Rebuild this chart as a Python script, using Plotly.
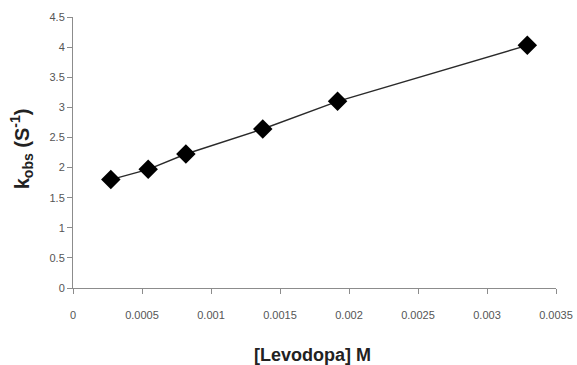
import plotly.graph_objects as go

# Levodopa concentration (M) and observed rate constant (s^-1)
levodopa_conc = [0.000274, 0.000545, 0.000818, 0.001375, 0.001917, 0.003292]
k_obs = [1.80, 1.97, 2.225, 2.64, 3.10, 4.03]

x_ticks = [0, 0.0005, 0.001, 0.0015, 0.002, 0.0025, 0.003, 0.0035]
x_tick_text = ["0", "0.0005", "0.001", "0.0015", "0.002", "0.0025", "0.003", "0.0035"]
y_ticks = [0, 0.5, 1, 1.5, 2, 2.5, 3, 3.5, 4, 4.5]
y_tick_text = ["0", "0.5", "1", "1.5", "2", "2.5", "3", "3.5", "4", "4.5"]

axis_color = "#8c8c8c"
tick_font = dict(family="Liberation Sans, Arial, sans-serif", size=11, color="#555555")

fig = go.Figure()
fig.add_trace(go.Scatter(
    x=levodopa_conc,
    y=k_obs,
    mode="lines+markers",
    line=dict(color="#2a2a2a", width=1.4),
    marker=dict(symbol="diamond", size=15, color="black"),
    showlegend=False,
))

fig.update_layout(
    width=577,
    height=365,
    margin=dict(l=73, r=21, t=17, b=77),
    paper_bgcolor="white",
    plot_bgcolor="white",
    xaxis=dict(
        range=[0, 0.0035],
        tickvals=x_ticks,
        ticktext=x_tick_text,
        showgrid=False,
        zeroline=False,
        showline=True,
        linecolor=axis_color,
        linewidth=1,
        ticks="outside",
        ticklen=5,
        tickcolor=axis_color,
        tickfont=tick_font,
        ticklabelstandoff=12,
        automargin=False,
    ),
    yaxis=dict(
        range=[0, 4.5],
        tickvals=y_ticks,
        ticktext=y_tick_text,
        showgrid=False,
        zeroline=False,
        showline=True,
        linecolor=axis_color,
        linewidth=1,
        ticks="outside",
        ticklen=5,
        tickcolor=axis_color,
        tickfont=tick_font,
        automargin=False,
    ),
    annotations=[
        dict(
            text="<b>[Levodopa] M</b>",
            xref="paper", yref="paper",
            x=0.495, y=-0.246,
            xanchor="center", yanchor="middle",
            showarrow=False,
            font=dict(family="Liberation Sans, Arial, sans-serif", size=18, color="#222222"),
        ),
        dict(
            text="<b>k<sub>obs</sub> (S<sup>-1</sup>)</b>",
            xref="paper", yref="paper",
            x=-0.105, y=0.513,
            xanchor="center", yanchor="middle",
            textangle=-90,
            showarrow=False,
            font=dict(family="Liberation Sans, Arial, sans-serif", size=20, color="#222222"),
        ),
    ],
)

fig.write_html("out.html")
